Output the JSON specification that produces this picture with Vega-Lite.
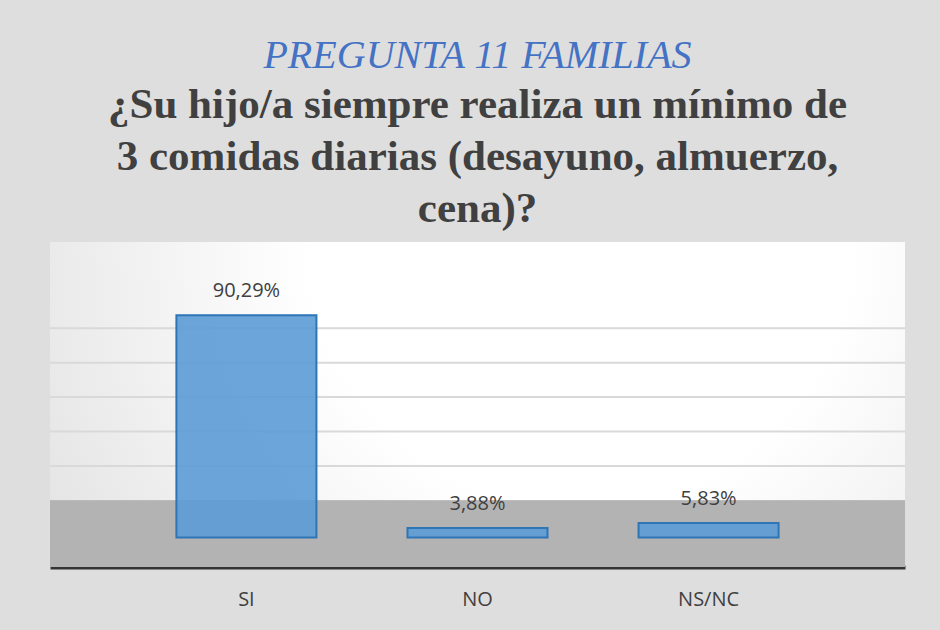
{
  "$schema": "https://vega.github.io/schema/vega-lite/v6.json",
  "width": 855,
  "height": 325,
  "padding": {"left": 50, "top": 242, "right": 35, "bottom": 63},
  "autosize": {"type": "none"},
  "background": "#dedede",
  "title": {
    "text": "PREGUNTA 11 FAMILIAS",
    "subtitle": ["¿Su hijo/a siempre realiza un mínimo de", "3 comidas diarias (desayuno, almuerzo,", "cena)?"],
    "anchor": "middle",
    "font": "Liberation Serif",
    "fontSize": 40,
    "fontStyle": "italic",
    "fontWeight": "normal",
    "color": "#4472C4",
    "subtitleFont": "Liberation Serif",
    "subtitleFontSize": 43,
    "subtitleFontWeight": "bold",
    "subtitleColor": "#404040",
    "subtitleLineHeight": 52,
    "subtitlePadding": 8,
    "offset": 11
  },
  "config": {
    "locale": {"number": {"decimal": ",", "thousands": ".", "grouping": [3], "currency": ["", " €"]}},
    "view": {
      "stroke": null,
      "fill": {
        "gradient": "radial",
        "x1": 0.62, "y1": 0.3, "r1": 0,
        "x2": 0.62, "y2": 0.3, "r2": 0.8,
        "stops": [
          {"offset": 0, "color": "#ffffff"},
          {"offset": 0.4, "color": "#ffffff"},
          {"offset": 1, "color": "#dedede"}
        ]
      }
    }
  },
  "data": {
    "values": [
      {"respuesta": "SI", "porcentaje": 0.9029},
      {"respuesta": "NO", "porcentaje": 0.0388},
      {"respuesta": "NS/NC", "porcentaje": 0.0583}
    ]
  },
  "layer": [
    {
      "mark": {"type": "rect", "color": "#b3b3b3"},
      "encoding": {
        "y": {"datum": -0.12, "type": "quantitative", "scale": {"domain": [-0.12, 1.2], "nice": false, "zero": false}, "axis": null},
        "y2": {"datum": 0.15}
      }
    },
    {
      "mark": {"type": "rule", "color": "#d9d9d9", "strokeWidth": 2},
      "data": {"values": [{"g": 0.29}, {"g": 0.43}, {"g": 0.57}, {"g": 0.71}, {"g": 0.85}]},
      "encoding": {
        "y": {"field": "g", "type": "quantitative"}
      }
    },
    {
      "mark": {"type": "bar", "color": "#5B9BD5", "fillOpacity": 0.9, "stroke": "#2E75B6", "strokeWidth": 2},
      "encoding": {
        "x": {
          "field": "respuesta",
          "type": "nominal",
          "sort": ["SI", "NO", "NS/NC"],
          "scale": {"paddingInner": 0.394, "paddingOuter": 0.547},
          "axis": {
            "title": null,
            "labelAngle": 0,
            "labelFont": "Open Sans",
            "labelFontSize": 20,
            "labelColor": "#404040",
            "labelPadding": 22,
            "ticks": false,
            "domainColor": "#333333",
            "domainWidth": 4
          }
        },
        "y": {"field": "porcentaje", "type": "quantitative"},
        "y2": {"datum": 0}
      }
    },
    {
      "mark": {"type": "text", "font": "Open Sans", "fontSize": 20, "color": "#404040", "dy": -24},
      "encoding": {
        "x": {"field": "respuesta", "type": "nominal", "sort": ["SI", "NO", "NS/NC"]},
        "y": {"field": "porcentaje", "type": "quantitative"},
        "text": {"field": "porcentaje", "type": "quantitative", "format": ".2%"}
      }
    }
  ]
}
